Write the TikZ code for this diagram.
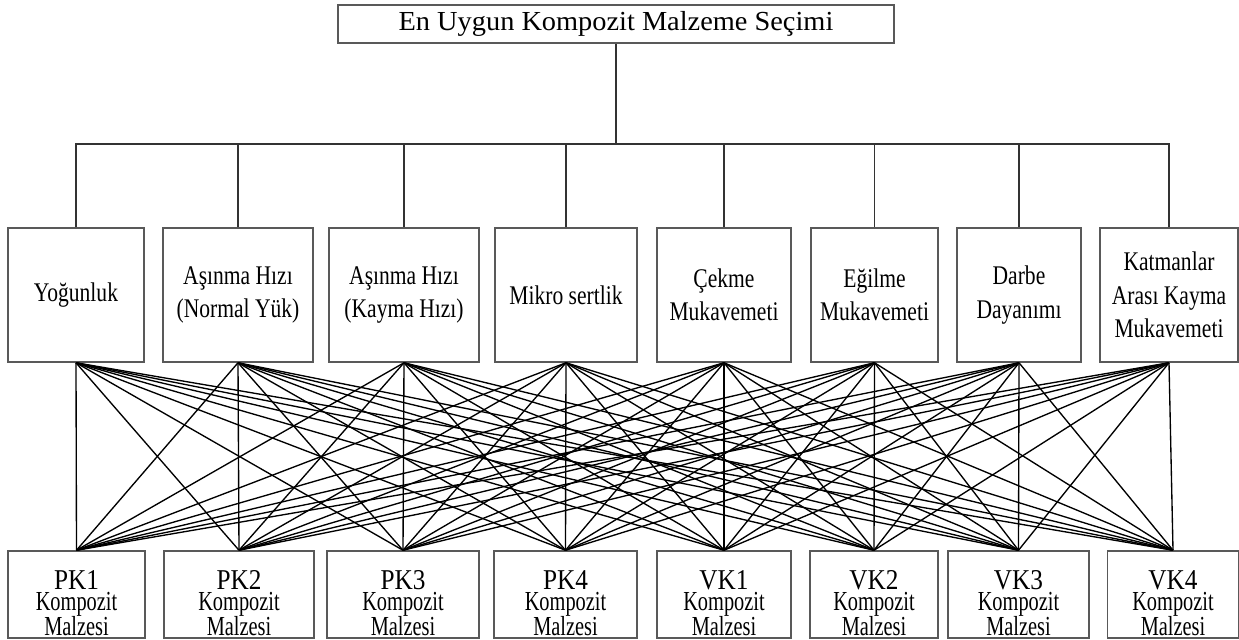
\documentclass[tikz,border=0pt]{standalone}
\usepackage{fontspec}
\setmainfont{Liberation Serif}
\newfontfamily\titlefont[FakeStretch=1.03]{Liberation Serif}
\newfontfamily\critfont[FakeStretch=0.80]{Liberation Serif}
\newfontfamily\codefont[FakeStretch=0.88]{Liberation Serif}
\newfontfamily\altfont[FakeStretch=0.74]{Liberation Serif}
\begin{document}
\begin{tikzpicture}[x=0.3mm, y=-0.3mm, line width=1.1pt,
  box/.style={draw=black!65, line width=1.3pt, inner sep=0pt, align=center},
  crit/.style={box, minimum height=40.2mm, font=\critfont\fontsize{23}{28.5}\selectfont},
  alt/.style={box, minimum height=26.1mm, text height=25.3mm, text depth=0.8mm, font=\altfont\fontsize{23.5}{21.5}\selectfont},
  tree/.style={draw=black!80, line width=1.3pt},
  mesh/.style={draw=black, line width=1.15pt}]
  \useasboundingbox (0,0) rectangle (1239,639);
  \node[box, minimum width=166.8mm, minimum height=11.4mm, font=\titlefont\fontsize{23.5}{26}\selectfont] (goal) at (616,24) {En Uygun Kompozit Malzeme Seçimi};
  \node[crit, minimum width=40.8mm] (c1) at (76,295) {Yoğunluk};
  \node[crit, minimum width=45.0mm] (c2) at (238,295) {Aşınma Hızı\\(Normal Yük)};
  \node[crit, minimum width=45.0mm] (c3) at (404,295) {Aşınma Hızı\\(Kayma Hızı)};
  \node[crit, minimum width=42.6mm] (c4) at (566,295) {Mikro sertlik};
  \node[crit, minimum width=40.2mm] (c5) at (724,295) {Çekme\\Mukavemeti};
  \node[crit, minimum width=38.1mm] (c6) at (874.5,295) {Eğilme\\Mukavemeti};
  \node[crit, minimum width=37.2mm] (c7) at (1019,295) {Darbe\\Dayanımı};
  \node[crit, minimum width=41.4mm] (c8) at (1169,295) {Katmanlar\\Arası Kayma\\Mukavemeti};
  \node[alt, minimum width=41.1mm] (a1) at (76.5,594.5) {{\codefont\fontsize{24.5}{24}\selectfont PK1}\\[-3.5pt]Kompozit\\Malzesi};
  \node[alt, minimum width=45.0mm] (a2) at (239,594.5) {{\codefont\fontsize{24.5}{24}\selectfont PK2}\\[-3.5pt]Kompozit\\Malzesi};
  \node[alt, minimum width=45.6mm] (a3) at (403,594.5) {{\codefont\fontsize{24.5}{24}\selectfont PK3}\\[-3.5pt]Kompozit\\Malzesi};
  \node[alt, minimum width=42.9mm] (a4) at (565.5,594.5) {{\codefont\fontsize{24.5}{24}\selectfont PK4}\\[-3.5pt]Kompozit\\Malzesi};
  \node[alt, minimum width=40.2mm] (a5) at (724,594.5) {{\codefont\fontsize{24.5}{24}\selectfont VK1}\\[-3.5pt]Kompozit\\Malzesi};
  \node[alt, minimum width=38.4mm] (a6) at (874,594.5) {{\codefont\fontsize{24.5}{24}\selectfont VK2}\\[-3.5pt]Kompozit\\Malzesi};
  \node[alt, minimum width=42.3mm] (a7) at (1018.5,594.5) {{\codefont\fontsize{24.5}{24}\selectfont VK3}\\[-3.5pt]Kompozit\\Malzesi};
  \node[alt, minimum width=39.3mm] (a8) at (1173,594.5) {{\codefont\fontsize{24.5}{24}\selectfont VK4}\\[-3.5pt]Kompozit\\Malzesi};
  \coordinate (hub) at (616,144);
  \draw[tree] (goal) -- (hub);
  \foreach \i in {1,...,8} \draw[tree] (hub) -| (c\i);
  \foreach \i in {1,...,8} \foreach \j in {1,...,8} \draw[mesh] (c\i.south) -- (a\j.north);
\end{tikzpicture}
\end{document}
